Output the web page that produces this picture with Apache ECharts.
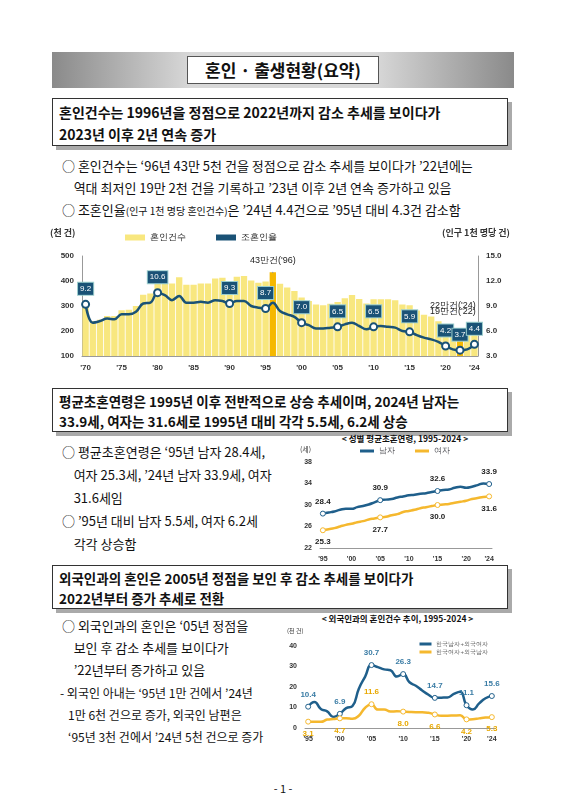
<!DOCTYPE html>
<html><head><meta charset="utf-8">
<script src="https://cdn.jsdelivr.net/npm/echarts@6/dist/echarts.min.js"></script>
<style>
body{margin:0;width:566px;height:800px;background:#fff;font-family:"Noto Sans CJK KR",sans-serif;position:relative;overflow:hidden;color:#111}
.abs{position:absolute}
.banner{left:52px;top:52px;width:462px;height:36px;background:linear-gradient(90deg,#8a8a8a,#d8d8d8 30%,#d8d8d8 70%,#8a8a8a)}
.banner div{position:absolute;left:135px;top:4px;width:190px;height:26px;background:#fff;border:1px solid #555;text-align:center;font-weight:bold;font-size:17px;line-height:26px}
.box{left:52px;width:456px;border:1px solid #333;box-shadow:4px 4px 0 #aaa;font-weight:bold;font-size:14px;line-height:22px;padding:2px 6px;box-sizing:border-box}
.txt{font-size:13px;line-height:22px}
</style></head><body>
<div class="abs banner"><div>혼인 · 출생현황(요약)</div></div>
<div class="abs box" style="top:98px;height:48px">혼인건수는 1996년을 정점으로 2022년까지 감소 추세를 보이다가<br>2023년 이후 2년 연속 증가</div>
<div class="abs txt" style="left:62px;top:155px;width:460px">○ 혼인건수는 ‘96년 43만 5천 건을 정점으로 감소 추세를 보이다가 ’22년에는<br>&nbsp;&nbsp;&nbsp;&nbsp;역대 최저인 19만 2천 건을 기록하고 ’23년 이후 2년 연속 증가하고 있음<br>○ 조혼인율<span style="font-size:10px">(인구 1천 명당 혼인건수)</span>은 ’24년 4.4건으로 ’95년 대비 4.3건 감소함</div>
<div id="c1" class="abs" style="left:50px;top:222px;width:460px;height:150px"></div>
<div class="abs box" style="top:388px;height:44px;font-size:13.5px;line-height:20px">평균초혼연령은 1995년 이후 전반적으로 상승 추세이며, 2024년 남자는<br>33.9세, 여자는 31.6세로 1995년 대비 각각 5.5세, 6.2세 상승</div>
<div class="abs txt" style="left:62px;top:440px;width:230px;line-height:23px">○ 평균초혼연령은 ‘95년 남자 28.4세,<br>&nbsp;&nbsp;&nbsp;&nbsp;여자 25.3세, ’24년 남자 33.9세, 여자<br>&nbsp;&nbsp;&nbsp;&nbsp;31.6세임<br>○ ’95년 대비 남자 5.5세, 여자 6.2세<br>&nbsp;&nbsp;&nbsp;&nbsp;각각 상승함</div>
<div class="abs" style="left:300px;top:432px;width:210px;text-align:center;font-size:8.5px;font-weight:bold">&lt; 성별 평균초혼연령, 1995-2024 &gt;</div>
<div id="c2" class="abs" style="left:298px;top:442px;width:214px;height:122px"></div>
<div class="abs box" style="top:565px;height:44px;font-size:13.5px;line-height:20px">외국인과의 혼인은 2005년 정점을 보인 후 감소 추세를 보이다가<br>2022년부터 증가 추세로 전환</div>
<div class="abs txt" style="left:62px;top:615px;width:230px;line-height:22px">○ 외국인과의 혼인은 ‘05년 정점을<br>&nbsp;&nbsp;&nbsp;&nbsp;보인 후 감소 추세를 보이다가<br>&nbsp;&nbsp;&nbsp;&nbsp;’22년부터 증가하고 있음</div>
<div class="abs" style="left:60px;top:682px;width:230px;font-size:12px;line-height:22px"> - 외국인 아내는 ‘95년 1만 건에서 ’24년<br>&nbsp;&nbsp;&nbsp;1만 6천 건으로 증가, 외국인 남편은<br>&nbsp;&nbsp;&nbsp;‘95년 3천 건에서 ’24년 5천 건으로 증가</div>
<div class="abs" style="left:285px;top:612px;width:225px;text-align:center;font-size:8.5px;font-weight:bold">&lt; 외국인과의 혼인건수 추이, 1995-2024 &gt;</div>
<div id="c3" class="abs" style="left:283px;top:622px;width:230px;height:122px"></div>
<div class="abs" style="left:0;top:780px;width:566px;text-align:center;font-size:11px">- 1 -</div>
<script>
const years1=[];for(let y=1970;y<=2024;y++)years1.push(y);
const marriages=[295,240,245,260,260,283,285,300,345,350,403,408,390,415,385,385,390,390,410,413,399,417,420,402,393,398,435,389,374,360,334,320,306,303,309,316,331,344,328,310,327,327,327,323,306,303,282,265,258,239,214,193,192,194,222];
const crudeRate=[9.2,7.0,7.2,7.5,7.4,8.0,8.0,8.3,9.3,9.4,10.6,10.3,9.7,10.2,9.4,9.4,9.5,9.4,9.7,9.6,9.3,9.6,9.6,9.0,8.8,8.7,9.4,8.4,8.0,7.7,7.0,6.7,6.3,6.3,6.4,6.5,6.8,7.0,6.6,6.2,6.5,6.6,6.5,6.4,6.0,5.9,5.5,5.2,5.0,4.7,4.2,3.8,3.7,3.8,4.4];
const rateLabelYears=[1970,1980,1990,1995,2000,2005,2010,2015,2020,2022,2024];
const years2=[];for(let y=1995;y<=2024;y++)years2.push(y);
const ageMen=[28.4,28.6,28.8,29.1,29.3,29.3,29.6,29.8,30.1,30.5,30.9,31.0,31.1,31.4,31.6,31.8,31.9,32.1,32.2,32.4,32.6,32.8,32.9,33.2,33.4,33.2,33.4,33.7,34.0,33.9];
const ageWomen=[25.3,25.5,25.7,26.0,26.3,26.5,26.8,27.0,27.3,27.5,27.7,27.8,28.1,28.3,28.7,28.9,29.1,29.4,29.6,29.8,30.0,30.1,30.2,30.4,30.6,30.8,31.1,31.3,31.5,31.6];
const foreignWife=[10.4,12.7,9.3,8.1,5.4,6.9,9.7,10.7,19.2,25.1,30.7,29.7,28.6,28.2,25.1,26.3,22.3,20.6,18.3,16.2,14.7,14.8,14.9,16.6,17.7,11.1,9.0,12.0,14.5,15.6];
const foreignHusband=[3.1,3.0,3.0,4.1,4.4,4.7,4.8,4.5,6.0,9.9,11.6,9.0,9.0,8.0,8.2,8.0,7.8,7.7,7.7,7.4,6.6,6.0,6.0,6.1,6.2,4.2,4.3,4.7,5.1,5.3];
const ageLabelYears=[1995,2005,2015,2024];
const fLabelYears=[1995,2000,2005,2010,2015,2020,2024];

const yl=y=>"'"+String(y).slice(2);
const ax={fontSize:8,fontWeight:'bold',color:'#333'};
const fmt1=p=>Number(p.value).toFixed(1);

const c1=echarts.init(document.getElementById('c1'));
c1.setOption({animation:false,
 grid:{left:32,right:32,top:34,bottom:16},
 legend:{top:6,left:70,itemGap:30,textStyle:{fontSize:9,color:'#222'},data:[{name:'혼인건수',icon:'rect',itemStyle:{color:'#f8e77f'}},{name:'조혼인율',icon:'rect'}],itemWidth:20,itemHeight:6},
 graphic:[{type:'text',left:0,top:6,style:{text:'(천 건)',font:'bold 9px Noto Sans CJK KR',fill:'#333'}},
  {type:'text',right:0,top:6,style:{text:'(인구 1천 명당 건)',font:'bold 9px Noto Sans CJK KR',fill:'#333'}}],
 xAxis:{type:'category',data:years1,axisTick:{show:false},axisLine:{lineStyle:{color:'#999'}},
  axisLabel:{...ax,interval:0,formatter:(v)=>{v=+v;return (v%5===0||v===2024)&&v!==2023?yl(v):'';}}},
 yAxis:[{type:'value',min:100,max:500,interval:100,axisLabel:ax,splitLine:{show:false},axisLine:{show:true,lineStyle:{color:'#999'}}},
  {type:'value',min:3,max:15,interval:3,axisLabel:{...ax,formatter:v=>v.toFixed(1)},splitLine:{show:false},axisLine:{show:true,lineStyle:{color:'#999'}}}],
 series:[{name:'혼인건수',type:'bar',barCategoryGap:'12%',
   data:marriages.map((v,i)=>({value:v,itemStyle:{color:(years1[i]===1996||years1[i]===2022)?'#f5b800':'#f8e77f'}})),
   markPoint:{symbol:'circle',symbolSize:1,label:{fontSize:9,color:'#222'},data:[{coord:[26,435],label:{position:'top',formatter:"43만건('96)",offset:[0,-2]}},{coord:[51,300],label:{position:'inside',formatter:"22만건('24)"}},{coord:[51,278],label:{position:'inside',formatter:"19만건('22)"}}]}},
  {name:'조혼인율',type:'line',yAxisIndex:1,smooth:0.4,color:'#1a5276',lineStyle:{width:2.5,color:'#1a5276'},
   data:crudeRate.map((v,i)=>{const s=rateLabelYears.includes(years1[i]);return {value:v,symbol:s?'circle':'none',symbolSize:7,itemStyle:{color:'#fff',borderColor:'#1a5276',borderWidth:2},
    label:{show:s,position:'top',distance:5,formatter:v.toFixed(1),fontSize:8,color:'#fff',backgroundColor:'#1a5276',borderColor:'#9cc',borderWidth:1,padding:[2,2]}};})}]
});

const c2=echarts.init(document.getElementById('c2'));
c2.setOption({animation:false,
 grid:{left:22,right:20,top:20,bottom:16},
 legend:{top:0,left:'center',itemGap:20,textStyle:{fontSize:8},itemWidth:14,itemHeight:3,icon:'rect',data:['남자','여자']},
 graphic:[{type:'text',left:2,top:4,style:{text:'(세)',font:'7px Noto Sans CJK KR',fill:'#333'}}],
 xAxis:{type:'category',data:years2,axisTick:{show:false},axisLine:{lineStyle:{color:'#999'}},
  axisLabel:{...ax,fontSize:7,interval:0,formatter:v=>{v=+v;return (v%5===0||v===2024)&&v!==2023?yl(v):'';}}},
 yAxis:{type:'value',min:22,max:38,interval:4,axisLabel:{...ax,fontSize:7},splitLine:{show:false}},
 series:[{name:'남자',type:'line',smooth:true,color:'#1f5f8b',lineStyle:{width:2.5},
   data:ageMen.map((v,i)=>{const s=ageLabelYears.includes(years2[i]);return {value:v,symbol:s?'circle':'none',symbolSize:5,itemStyle:{color:'#fff',borderColor:'#1f5f8b'},label:{show:s,position:'top',formatter:fmt1,fontSize:8,fontWeight:'bold',color:'#222'}};})},
  {name:'여자',type:'line',smooth:true,color:'#f5b82e',lineStyle:{width:2.5},
   data:ageWomen.map((v,i)=>{const s=ageLabelYears.includes(years2[i]);return {value:v,symbol:s?'circle':'none',symbolSize:5,itemStyle:{color:'#fff',borderColor:'#f5b82e'},label:{show:s,position:'bottom',formatter:fmt1,fontSize:8,fontWeight:'bold',color:'#222'}};})}]
});

const c3=echarts.init(document.getElementById('c3'));
c3.setOption({animation:false,
 grid:{left:22,right:18,top:24,bottom:16},
 legend:{top:14,right:20,orient:'vertical',itemGap:2,textStyle:{fontSize:6,color:'#666'},itemWidth:12,itemHeight:3,icon:'rect',data:['한국남자+외국여자','한국여자+외국남자']},
 graphic:[{type:'text',left:4,top:6,style:{text:'(천 건)',font:'6px Noto Sans CJK KR',fill:'#333'}}],
 xAxis:{type:'category',data:years2,axisTick:{show:false},axisLine:{lineStyle:{color:'#999'}},
  axisLabel:{...ax,fontSize:7,interval:0,formatter:v=>{v=+v;return (v%5===0||v===2024)&&v!==2023?yl(v):'';}}},
 yAxis:{type:'value',min:0,max:40,interval:10,axisLabel:{...ax,fontSize:7},splitLine:{show:false}},
 series:[{name:'한국남자+외국여자',type:'line',smooth:true,color:'#1f5f8b',lineStyle:{width:2.5},
   data:foreignWife.map((v,i)=>{const s=fLabelYears.includes(years2[i]);return {value:v,symbol:s?'circle':'none',symbolSize:5,itemStyle:{color:'#fff',borderColor:'#1f5f8b'},label:{show:s,position:'top',formatter:fmt1,fontSize:8,fontWeight:'bold',color:'#3a7ca5'}};})},
  {name:'한국여자+외국남자',type:'line',smooth:true,color:'#f5b82e',lineStyle:{width:2.5},
   data:foreignHusband.map((v,i)=>{const s=fLabelYears.includes(years2[i]);return {value:v,symbol:s?'circle':'none',symbolSize:5,itemStyle:{color:'#fff',borderColor:'#f5b82e'},label:{show:s,position:years2[i]===2005?'top':'bottom',formatter:fmt1,fontSize:8,fontWeight:'bold',color:'#e8a800'}};})}]
});
</script></body></html>
